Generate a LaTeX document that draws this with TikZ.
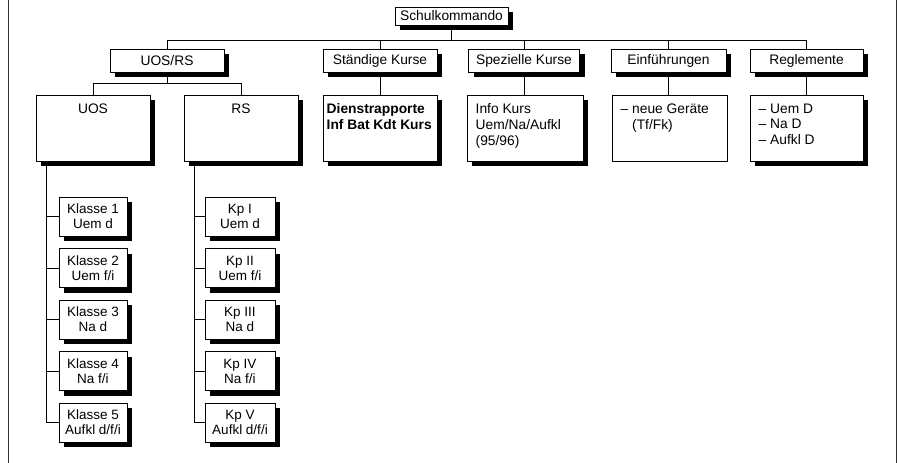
\documentclass[tikz,border=0pt]{standalone}
\usepackage{fontspec}
\setmainfont{Liberation Sans}
\usetikzlibrary{shadows}
\begin{document}
\begin{tikzpicture}[x=1pt,y=-1pt,
  every node/.style={font=\fontsize{13.8}{15.8}\selectfont},
  sh/.style={drop shadow={shadow xshift=5pt,shadow yshift=-5pt,opacity=1,fill=black}},
  boxbase/.style={draw,line width=1pt,fill=white,inner sep=0pt},
  hbox/.style={boxbase,sh,minimum height=23pt},
  bbox/.style={boxbase,minimum height=66pt},
  sbox/.style={boxbase,sh,minimum width=68pt,minimum height=39pt,align=center,font=\fontsize{13.5}{15}\selectfont},
  txt/.style={inner sep=0pt,anchor=north west,align=left},
  conn/.style={line width=1pt},
  framestyle/.style={line width=1pt,black!80}
]
\useasboundingbox (0,0) rectangle (898,463);
\fill[white] (0,0) rectangle (898,463);

% frame lines
\coordinate (fa) at (8,0);
\coordinate (fb) at (8,463);
\coordinate (fc) at (896,0);
\coordinate (fd) at (896,463);
\draw[framestyle] (fa) -- (fb);
\draw[framestyle] (fc) -- (fd);

% top
\node[boxbase,sh,minimum width=113pt,minimum height=18pt] (sk) at (451.5,16) {Schulkommando};

% level 2
\node[hbox,minimum width=114pt] (uosrs) at (167,60.5) {UOS/RS};
\node[hbox,minimum width=114pt] (stk) at (380,60.5) {Ständige Kurse};
\node[hbox,minimum width=111pt] (spk) at (524,60.5) {Spezielle Kurse};
\node[hbox,minimum width=115pt] (einf) at (668.5,60.5) {Einführungen};
\node[hbox,minimum width=113pt] (regl) at (806.5,60.5) {Reglemente};

% level 3
\node[bbox,sh,minimum width=114pt] (uos) at (93,128) {};
\node[bbox,sh,minimum width=114pt] (rs) at (241,128) {};
\node[bbox,sh,minimum width=114pt] (stkb) at (380,128) {};
\node[bbox,sh,minimum width=116pt] (spkb) at (525,128) {};
\node[bbox,minimum width=115pt] (einfb) at (669.5,128) {};
\node[bbox,sh,minimum width=113pt] (reglb) at (806.5,128) {};

\node[txt,anchor=north] (uost) at ([yshift=-9pt]uos.north) {UOS};
\node[txt,anchor=north] (rst) at ([yshift=-9pt]rs.north) {RS};
\node[txt,font=\fontsize{13.8}{15.8}\selectfont\bfseries] (stkt) at ([shift={(4pt,-9pt)}]stkb.north west) {Dienstrapporte\\Inf Bat Kdt Kurs};
\node[txt] (spkt) at ([shift={(9pt,-9pt)}]spkb.north west) {Info Kurs\\Uem/Na/Aufkl\\(95/96)};
\node[txt] (einft) at ([shift={(9pt,-9pt)}]einfb.north west) {– neue Geräte\\\phantom{–\ }(Tf/Fk)};
\node[txt] (reglt) at ([shift={(9pt,-9pt)}]reglb.north west) {– Uem D\\– Na D\\– Aufkl D};

% Klassen
\node[sbox] (k1) at (93,216.5) {Klasse 1\\Uem d};
\node[sbox] (k2) at (93,268) {Klasse 2\\Uem f/i};
\node[sbox] (k3) at (93,319.5) {Klasse 3\\Na d};
\node[sbox] (k4) at (93,371) {Klasse 4\\Na f/i};
\node[sbox] (k5) at (93,422.5) {Klasse 5\\Aufkl d/f/i};

% Kp
\node[sbox,minimum width=70pt] (p1) at (240,216.5) {Kp I\\Uem d};
\node[sbox,minimum width=70pt] (p2) at (240,268) {Kp II\\Uem f/i};
\node[sbox,minimum width=70pt] (p3) at (240,319.5) {Kp III\\Na d};
\node[sbox,minimum width=70pt] (p4) at (240,371) {Kp IV\\Na f/i};
\node[sbox,minimum width=70pt] (p5) at (240,422.5) {Kp V\\Aufkl d/f/i};

% connectors: bus
\coordinate (busy) at (0,40);
\draw[conn] (sk.south) -- (sk.south |- busy);
\draw[conn] (uosrs.north) |- (regl.north |- busy) -- (regl.north);
\foreach \n in {stk,spk,einf} \draw[conn] (\n.north) -- (\n.north |- busy);

% headers to bodies
\foreach \a/\b in {stk/stkb,spk/spkb,einf/einfb,regl/reglb}
  \draw[conn] (\a.south) -- (\a.south |- \b.north);

% UOS/RS branch
\coordinate (midy) at (0,83);
\draw[conn] (uosrs.south) -- (uosrs.south |- midy);
\draw[conn] (uos.north) |- (rs.north |- midy) -- (rs.north);

% trunks
\coordinate (utx) at (46,0);
\coordinate (rtx) at (194,0);
\coordinate (ut) at (utx |- uos.south);
\coordinate (rt) at (rtx |- rs.south);
\draw[conn] (ut) |- (k5.west);
\draw[conn] (rt) |- (p5.west);
\foreach \n in {k1,k2,k3,k4} \draw[conn] (\n.west) -- (\n.west -| ut);
\foreach \n in {p1,p2,p3,p4} \draw[conn] (\n.west) -- (\n.west -| rt);
\end{tikzpicture}
\end{document}
